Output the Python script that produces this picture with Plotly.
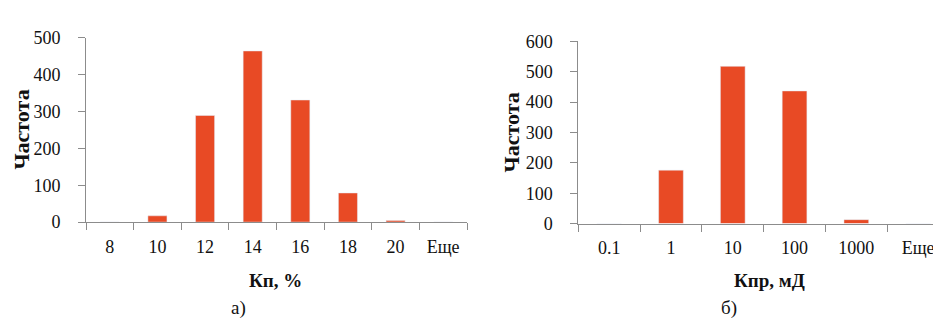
import plotly.graph_objects as go

# Panel a)
cats_a = ["8", "10", "12", "14", "16", "18", "20", "Еще"]
vals_a = [0, 17, 289, 464, 331, 79, 4, 0]
# Panel b)
cats_b = ["0.1", "1", "10", "100", "1000", "Еще"]
vals_b = [0, 176, 518, 437, 13, 0]

BAR = "#E84A25"
AX = "#8C8C8C"
FONT = "Liberation Serif, Times New Roman, DejaVu Serif, serif"

fig = go.Figure()
fig.add_trace(go.Bar(x=cats_a, y=vals_a, marker_color=BAR, xaxis="x", yaxis="y",
                     showlegend=False))
fig.add_trace(go.Bar(x=cats_b, y=vals_b, marker_color=BAR, xaxis="x2", yaxis="y2",
                     showlegend=False))

W, H = 941, 320

def xd(a, b):
    return [a / W, b / W]

def yd(bottom_px, top_px):
    return [1 - bottom_px / H, 1 - top_px / H]

xcommon = dict(type="category", showline=True, linecolor=AX, linewidth=1,
               ticks="outside", ticklen=7, tickcolor=AX, tickson="boundaries",
               showgrid=False, zeroline=False, ticklabelstandoff=8,
               tickfont=dict(family=FONT, size=18, color="#111111"))
ycommon = dict(showline=True, linecolor=AX, linewidth=1, ticks="outside",
               ticklen=7, tickcolor=AX, showgrid=False, zeroline=False,
               ticklabelstandoff=14,
               tickfont=dict(family=FONT, size=18, color="#111111"))

fig.update_layout(
    width=W, height=H,
    margin=dict(l=0, r=0, t=0, b=0),
    paper_bgcolor="white", plot_bgcolor="white",
    bargap=0.6,
    font=dict(family=FONT),
    xaxis=dict(domain=xd(78, 459), anchor="y", **xcommon),
    yaxis=dict(domain=yd(217.7, 21), anchor="x", range=[0, 500], dtick=100, **ycommon),
    xaxis2=dict(domain=xd(570.3, 941), anchor="y2", **xcommon),
    yaxis2=dict(domain=yd(219.3, 25), anchor="x2", range=[0, 600], dtick=100, **ycommon),
)

ann = []
def add(text, x, y, size=18, bold=False, angle=0):
    ann.append(dict(text=f"<b>{text}</b>" if bold else text, x=x / W, y=1 - y / H,
                    xref="paper", yref="paper", showarrow=False, textangle=angle,
                    xanchor="center", yanchor="middle",
                    font=dict(family=FONT, size=size, color="#111111")))

add("Кп, %", 267, 280, size=19, bold=True)
add("а)", 230, 309, size=19)
add("Частота", 14, 119, size=22, bold=True, angle=-90)
add("Кпр, мД", 761, 280, size=19, bold=True)
add("б)", 721, 309, size=19)
add("Частота", 503, 122, size=22, bold=True, angle=-90)
fig.update_layout(annotations=ann)

fig.write_html("out.html")
